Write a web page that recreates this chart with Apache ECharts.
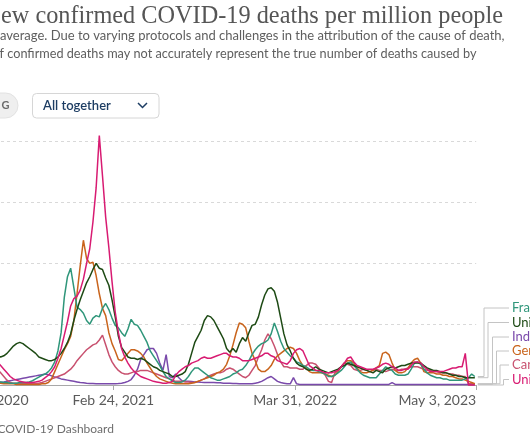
<!DOCTYPE html>
<html><head><meta charset="utf-8">
<script src="https://cdn.jsdelivr.net/npm/echarts@6/dist/echarts.min.js"></script>
<style>
html,body{margin:0;padding:0;background:#fff;width:530px;height:442px;overflow:hidden;position:relative;}
#c{position:absolute;left:-56px;top:0;width:686px;height:442px;}
</style>
</head><body><div id="c"></div>
<script>
// ---- data (7-day rolling average, deaths per million, sampled weekly) ----
const startDate = '2020-06-14';
const stepDays = 7;
const axisStart = '2020-02-24';
const axisEnd = '2023-05-03';
const tickDates = ['2020-02-24', '2021-02-24', '2022-03-31', '2023-05-03'];
const tickLabels = ['Feb 24, 2020', 'Feb 24, 2021', 'Mar 31, 2022', 'May 3, 2023'];
const yTicks = [0, 5, 10, 15, 20];
const countries = ['France', 'United States', 'India', 'Germany', 'Canada', 'United Kingdom'];

const france = [0.3,0.25,0.2,0.2,0.15,0.15,0.15,0.2,0.2,0.2,
0.25,0.35,0.5,0.65,0.8,0.9,1.1,1.4,1.9,2.8,
4.3,7.2,8.9,9.6,8.0,6.4,6.2,5.9,5.3,5.0,
5.5,5.7,5.6,6.3,6.7,6.2,5.5,4.9,4.7,4.3,
4.0,4.6,5.4,5.0,4.9,4.5,4.0,3.5,2.8,2.4,
2.0,1.6,1.1,0.7,0.5,0.35,0.2,0.2,0.25,
0.4,0.7,1.1,1.4,1.4,1.2,1.0,0.8,0.6,0.5,
0.4,0.4,0.5,0.6,0.7,0.9,1.0,1.2,1.3,1.6,
2.0,2.5,2.9,3.2,3.4,3.5,3.7,4.2,5.1,4.4,
3.6,3.0,2.7,2.4,2.2,1.9,1.8,1.6,1.5,1.3,
1.2,1.2,1.1,1.0,0.9,0.7,0.7,0.8,1.0,1.2,
1.5,1.8,1.9,1.6,1.3,1.0,0.8,0.7,0.6,
0.6,0.6,0.9,1.2,1.5,1.3,1.2,0.9,0.8,0.8,
0.8,0.9,1.3,1.8,1.9,1.7,1.3,1.0,0.8,0.7,
0.6,0.6,0.5,0.5,0.4,0.4,0.4,0.4,0.4,0.5,
0.6,0.9,0.7];

const unitedStates = [2.4,2.3,2.4,2.6,2.9,3.2,3.4,3.5,3.4,3.2,
3.0,2.8,2.6,2.3,2.2,2.1,2.0,2.0,2.1,2.3,
2.6,3.0,3.5,4.2,5.3,6.2,7.0,7.7,8.4,8.9,
9.5,10.0,9.6,9.5,8.8,8.2,7.0,5.6,4.0,3.1,
2.7,2.3,2.2,2.2,2.1,2.2,2.1,1.9,1.7,1.5,
1.4,1.2,1.1,1.0,0.9,0.7,0.7,0.8,0.9,
1.1,1.7,2.6,3.5,4.0,4.5,5.3,5.7,5.6,5.3,
4.8,4.3,3.8,3.0,2.7,3.0,2.7,3.4,3.9,3.6,
4.3,4.9,5.0,5.6,6.6,7.4,7.9,8.0,7.7,6.8,
5.5,4.2,3.3,2.8,2.2,1.8,1.6,1.5,1.3,1.2,
1.3,1.5,1.3,1.2,1.1,1.0,1.1,1.2,1.3,1.5,
1.6,1.8,1.7,1.6,1.5,1.4,1.3,1.2,1.1,
1.0,1.2,1.1,1.0,1.3,1.4,1.5,1.4,1.5,1.6,
1.6,1.7,1.8,1.8,1.8,1.8,1.6,1.4,1.3,1.2,
1.2,1.1,1.0,1.0,0.9,0.8,0.8,0.7,0.7,0.6,
0.6,0.6,0.6];

const india = [0.2,0.22,0.25,0.3,0.35,0.4,0.45,0.5,0.55,0.6,
0.65,0.7,0.75,0.8,0.85,0.9,0.85,0.75,0.65,0.6,
0.5,0.45,0.4,0.35,0.3,0.25,0.2,0.18,0.15,0.13,
0.12,0.1,0.1,0.1,0.1,0.1,0.1,0.1,0.12,0.15,
0.2,0.3,0.45,0.8,1.3,2.1,2.5,2.9,3.0,3.0,
2.6,1.8,1.2,2.5,0.7,0.6,0.9,0.6,0.35,
0.3,0.3,0.28,0.25,0.25,0.22,0.2,0.2,0.2,0.2,
0.18,0.18,0.15,0.15,0.15,0.12,0.12,0.1,0.1,0.1,
0.1,0.1,0.15,0.2,0.3,0.45,0.6,0.7,0.5,0.3,
0.2,0.15,0.1,0.1,0.6,0.1,0.05,0.05,0.05,0.05,
0.05,0.05,0.05,0.05,0.05,0.05,0.05,0.05,0.05,0.05,
0.05,0.05,0.05,0.05,0.05,0.05,0.05,0.05,0.05,
0.05,0.05,0.05,0.05,0.05,0.05,0.2,0.05,0.05,0.05,
0.05,0.05,0.05,0.05,0.05,0.05,0.05,0.05,0.05,0.05,
0.05,0.05,0.05,0.05,0.05,0.05,0.05,0.05,0.05,0.05,
0.05,0.05,0.05];

const germany = [0.2,0.15,0.1,0.1,0.1,0.1,0.05,0.05,0.05,0.05,
0.05,0.05,0.05,0.05,0.1,0.1,0.2,0.5,1.1,1.7,
2.3,2.9,3.4,4.0,5.3,7.5,9.8,11.9,10.4,10.0,
10.1,9.0,7.5,6.3,5.7,4.3,3.4,2.8,2.1,2.0,
2.3,2.6,2.9,2.9,2.8,2.6,2.3,1.8,1.4,1.0,
0.7,0.5,0.4,0.3,0.2,0.15,0.1,0.1,0.1,
0.1,0.1,0.15,0.2,0.3,0.4,0.5,0.6,0.7,0.8,
1.0,1.1,1.3,1.7,2.4,3.3,4.3,5.1,5.0,4.7,
3.6,2.6,2.0,1.3,1.1,1.1,1.3,1.6,2.1,2.4,
2.6,2.8,3.0,3.1,3.0,2.6,2.0,1.6,1.4,1.1,
1.0,1.0,1.0,1.0,0.9,0.8,0.7,0.8,1.1,1.5,
1.8,2.0,2.0,1.8,1.4,1.1,1.0,1.0,1.1,
1.2,1.4,1.6,2.6,2.7,2.5,1.8,1.2,1.0,1.0,
1.1,1.4,1.8,2.1,2.2,1.8,1.1,1.0,1.0,1.0,
0.9,0.9,0.8,0.8,0.7,0.7,0.6,0.5,0.5,0.4,
0.3,0.2,0.1];

const canada = [1.3,1.0,0.7,0.4,0.2,0.15,0.15,0.1,0.1,0.1,
0.1,0.1,0.1,0.15,0.2,0.3,0.4,0.5,0.6,0.7,
0.8,0.9,1.1,1.3,1.6,2.0,2.3,2.6,2.9,3.1,
3.3,3.4,3.7,4.1,3.3,2.5,1.9,1.5,1.2,1.0,
0.9,0.9,1.0,1.1,1.1,1.2,1.2,1.2,1.1,1.0,
0.9,0.8,0.7,0.6,0.5,0.4,0.3,0.3,0.3,
0.25,0.25,0.2,0.2,0.3,0.4,0.5,0.7,0.8,0.9,
1.0,1.0,1.1,1.3,1.4,1.3,1.1,0.9,0.7,0.6,
0.8,1.2,1.6,2.3,2.9,3.7,4.2,3.8,3.2,2.5,
1.9,1.5,1.5,1.4,1.4,1.4,1.3,1.3,1.6,1.8,
1.8,1.7,1.4,1.1,0.8,0.3,0.2,1.0,1.2,1.5,
1.8,1.7,1.6,1.3,1.2,1.2,1.3,1.2,1.1,
1.2,1.3,1.2,1.2,1.1,1.2,1.3,1.2,1.2,1.3,
1.3,1.4,1.5,1.5,1.5,1.4,1.3,1.2,1.2,1.1,
1.1,1.0,1.0,1.0,0.9,0.9,0.8,0.8,0.7,0.7,
0.1,0.1,0.1];

const unitedKingdom = [1.9,1.6,1.3,1.0,0.7,0.5,0.4,0.3,0.25,0.2,
0.2,0.2,0.25,0.3,0.4,0.6,0.8,1.1,1.5,2.2,
3.0,4.1,5.2,6.5,7.1,7.3,7.8,8.7,10.0,11.2,
13.4,16.2,20.5,17.2,13.8,11.3,8.5,6.0,4.3,3.0,
2.3,1.8,1.4,1.1,0.9,0.7,0.6,0.5,0.4,0.3,
0.25,0.2,0.15,0.15,0.2,0.3,0.8,1.1,1.3,
1.5,1.6,1.8,1.9,2.0,2.2,2.3,2.2,2.2,2.3,
2.4,2.5,2.6,2.6,2.4,2.3,2.3,2.2,2.0,2.0,
2.0,2.1,2.2,2.3,2.4,2.6,2.6,2.4,2.3,2.0,
1.9,1.8,1.7,2.0,2.6,2.9,3.0,2.8,2.2,1.6,
1.4,1.2,1.2,1.1,1.0,1.0,1.0,1.1,1.2,1.5,
1.8,2.2,2.3,1.9,1.6,1.5,1.4,1.3,1.3,
1.3,1.4,1.5,1.7,1.8,1.7,1.5,1.4,1.2,1.2,
1.3,1.3,1.6,1.9,1.9,1.8,1.5,1.3,1.1,1.1,
1.1,1.1,1.1,1.2,1.3,1.4,1.4,1.5,1.5,2.6,
0,0,0];

// ---- styling / layout ----
const OX = 56; // the chart canvas starts 56px left of the visible window (cropped view)
const colors = ['#2f967a', '#1d4a14', '#7a4aab', '#c9641c', '#c8516f', '#d81b72'];
const labelY = [308, 322.5, 337, 351, 365, 379.5];
const kneeX = [484, 488, 492.5, 496.5, 500, 503.5];
const valueArrays = [france, unitedStates, india, germany, canada, unitedKingdom];

const DAY = 864e5;
const toTs = s => { const p = s.split('-').map(Number); return Date.UTC(p[0], p[1] - 1, p[2]); };
const t0 = toTs(startDate);
const dates = france.map((_, i) => t0 + i * stepDays * DAY);
const tickTs = tickDates.map(toTs);
const labelFor = {};
tickTs.forEach((t, i) => { labelFor[t] = tickLabels[i]; });

const drawOrder = [2, 4, 3, 0, 1, 5];
const series = drawOrder.map(idx => ({
  name: countries[idx],
  type: 'line',
  data: valueArrays[idx].map((v, i) => [dates[i], v]),
  showSymbol: false,
  symbol: 'none',
  clip: false,
  lineStyle: { color: colors[idx], width: 1.5 },
  itemStyle: { color: colors[idx] },
  emphasis: { disabled: true },
  animation: false
}));

const tAlign = { textAlign: 'left', textVerticalAlign: 'middle', align: 'left', verticalAlign: 'middle' };
const baseGraphic = [
  { type: 'text', id: 'title', x: OX + 1, y: 16.5, silent: true,
    style: Object.assign({ text: 'ew confirmed COVID-19 deaths per million people', font: '24.3px "Liberation Serif", serif', fill: '#555' }, tAlign) },
  { type: 'text', id: 'sub1', x: OX, y: 36, silent: true,
    style: Object.assign({ text: 'average. Due to varying protocols and challenges in the attribution of the cause of death,',
      font: '13px Lato, sans-serif', fill: '#5e5e5e' }, tAlign) },
  { type: 'text', id: 'sub2', x: OX - 7.5, y: 53.5, silent: true,
    style: Object.assign({ text: 'of confirmed deaths may not accurately represent the true number of deaths caused by',
      font: '12.7px Lato, sans-serif', fill: '#5e5e5e' }, tAlign) },
  { type: 'rect', id: 'logbtn', silent: true,
    shape: { x: OX - 30, y: 93, width: 48, height: 25, r: 12.5 },
    style: { fill: '#efefef', stroke: '#e2e2e2', lineWidth: 1 } },
  { type: 'text', id: 'logtxt', x: OX + 1.5, y: 105.5, silent: true,
    style: Object.assign({ text: 'G', font: 'bold 11px Lato, sans-serif', fill: '#6b6b6b' }, tAlign) },
  { type: 'rect', id: 'dd', silent: true,
    shape: { x: OX + 32.5, y: 93.5, width: 126.5, height: 24.5, r: 4 },
    style: { fill: '#fff', stroke: '#d6d6d6', lineWidth: 1 } },
  { type: 'text', id: 'ddtxt', x: OX + 43, y: 105.5, silent: true,
    style: Object.assign({ text: 'All together', font: '600 13px Lato, sans-serif', fill: '#1d3d63' }, tAlign) },
  { type: 'polyline', id: 'chev', silent: true,
    shape: { points: [[OX + 138, 103], [OX + 142.5, 107.5], [OX + 147, 103]] },
    style: { stroke: '#1d3d63', lineWidth: 1.5, fill: null } },
  { type: 'text', id: 'foot', x: OX - 2.5, y: 429, silent: true,
    style: Object.assign({ text: 'COVID-19 Dashboard', font: '12px Lato, sans-serif', fill: '#6e6e6e' }, tAlign) }
];

const option = {
  animation: false,
  backgroundColor: '#fff',
  grid: { left: OX - 55.8, right: 686 - (OX + 476.2), top: 141.7, bottom: 57, containLabel: false },
  xAxis: {
    type: 'value',
    min: toTs(axisStart),
    max: toTs(axisEnd),
    axisLine: { show: true, lineStyle: { color: '#a8a8a8', width: 1 } },
    axisTick: { show: true, length: 5, lineStyle: { color: '#a8a8a8' }, customValues: tickTs },
    splitLine: { show: false },
    axisLabel: {
      customValues: tickTs,
      formatter: v => labelFor[v] || '',
      color: '#5b5b5b', fontFamily: 'Lato', fontSize: 14, margin: 8,
      alignMinLabel: 'left', alignMaxLabel: 'right', showMinLabel: true, showMaxLabel: true, hideOverlap: false
    }
  },
  yAxis: {
    type: 'value', min: yTicks[0], max: yTicks[yTicks.length - 1], interval: yTicks[1] - yTicks[0],
    axisLine: { show: false }, axisTick: { show: false }, axisLabel: { show: false },
    splitLine: { show: true, lineStyle: { color: '#d9d9d9', type: [3, 3], width: 1 } }
  },
  series: series,
  graphic: baseGraphic
};

const chart = echarts.init(document.getElementById('c'), null, { renderer: 'canvas' });
chart.setOption(option);

// end-of-line labels with connectors, anchored on each series' last point
const last = dates.length - 1;
const extra = [];
countries.forEach((name, i) => {
  const p = chart.convertToPixel({ gridIndex: 0 }, [dates[last], valueArrays[i][last]]);
  extra.push({ type: 'polyline', id: 'conn' + i, silent: true,
    shape: { points: [[p[0] + 3, p[1]], [OX + kneeX[i], p[1]], [OX + kneeX[i], labelY[i]], [OX + 509, labelY[i]]] },
    style: { stroke: '#c4c4c4', lineWidth: 1, fill: null } });
  extra.push({ type: 'text', id: 'lab' + i, x: OX + 512, y: labelY[i], silent: true,
    style: Object.assign({ text: name, font: '13px Lato, sans-serif', fill: colors[i] }, tAlign) });
});
chart.setOption({ graphic: baseGraphic.concat(extra) });
</script></body></html>
